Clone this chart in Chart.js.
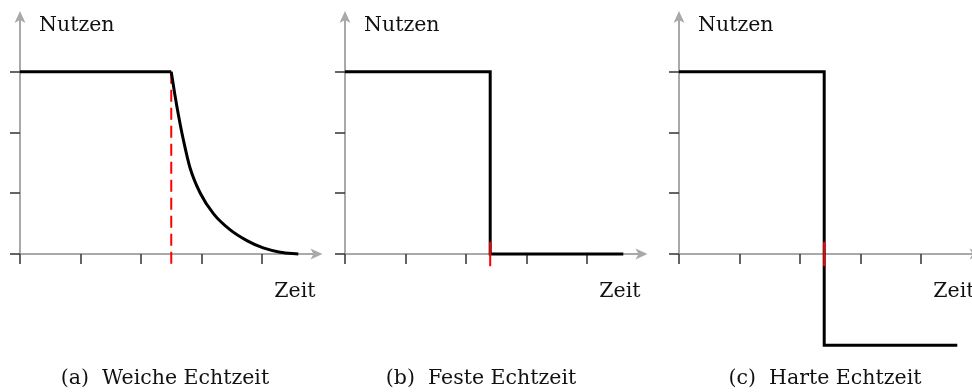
<!DOCTYPE html>
<html>
<head>
<meta charset="utf-8">
<script src="https://cdn.jsdelivr.net/npm/chart.js@4/dist/chart.umd.min.js"></script>
<style>
  body { margin: 0; background: #fff; overflow: hidden; }
  #wrap { position: relative; width: 972px; height: 392px; overflow: hidden; }
  canvas { position: absolute; top: 0; }
</style>
</head>
<body>
<div id="wrap">
  <canvas id="soft" width="340" height="392" style="left:0px"></canvas>
  <canvas id="firm" width="340" height="392" style="left:325px"></canvas>
  <canvas id="hard" width="340" height="392" style="left:659px"></canvas>
</div>
<script>
// axis ticks (no labels in the original)
const timeTicks = [0, 1, 2, 3, 4];
const utilTicks = [0, 1, 2, 3];

// (a) weiche Echtzeit
const softFlatX = [0, 2.5];
const softFlatY = [3, 3];
const softDecayX = [2.5, 2.56, 2.62, 2.7, 2.81, 2.98, 3.2, 3.47, 3.75, 4.02, 4.3, 4.6];
const softDecayY = [3, 2.62, 2.28, 1.88, 1.42, 1.0, 0.66, 0.40, 0.22, 0.1, 0.03, 0];
const softMarkY = [3, -0.2];

// (b) feste Echtzeit
const firmX = [0, 2.4, 2.4, 4.6];
const firmY = [3, 3, 0, 0];

// (c) harte Echtzeit
const hardX = [0, 2.4, 2.4, 4.6];
const hardY = [3, 3, -1.5, -1.5];

const markY = [0.2, -0.2];
const deadlines = [2.5, 2.4, 2.4];
const captions = ['(a)  Weiche Echtzeit', '(b)  Feste Echtzeit', '(c)  Harte Echtzeit'];
const yTitle = 'Nutzen';
const xTitle = 'Zeit';

const FONT = '20.5px "DejaVu Serif", serif';
const AXIS = '#a9a9a9';

function pts(xs, ys) {
  return xs.map((x, i) => ({ x: x, y: ys[i] }));
}

// axes with arrows, tick marks and labels
const axesPlugin = {
  id: 'axes',
  beforeDatasetsDraw(chart, args, opts) {
    const ctx = chart.ctx;
    const xs = chart.scales.x, ys = chart.scales.y;
    const ox = xs.getPixelForValue(0), oy = ys.getPixelForValue(0);
    const xEnd = xs.getPixelForValue(xs.max), yEnd = ys.getPixelForValue(ys.max);
    ctx.save();
    ctx.strokeStyle = AXIS;
    ctx.fillStyle = AXIS;
    ctx.lineWidth = 2;
    ctx.beginPath();
    ctx.moveTo(ox, oy); ctx.lineTo(xEnd - 4, oy);
    ctx.moveTo(ox, oy); ctx.lineTo(ox, yEnd + 4);
    ctx.stroke();
    // arrow heads
    ctx.beginPath();
    ctx.moveTo(xEnd, oy); ctx.lineTo(xEnd - 12, oy - 5.5); ctx.lineTo(xEnd - 9, oy); ctx.lineTo(xEnd - 12, oy + 5.5);
    ctx.closePath(); ctx.fill();
    ctx.beginPath();
    ctx.moveTo(ox, yEnd); ctx.lineTo(ox - 5.5, yEnd + 12); ctx.lineTo(ox, yEnd + 9); ctx.lineTo(ox + 5.5, yEnd + 12);
    ctx.closePath(); ctx.fill();
    // tick marks
    ctx.strokeStyle = '#333';
    ctx.lineWidth = 1.5;
    ctx.beginPath();
    timeTicks.forEach(t => {
      const px = Math.round(xs.getPixelForValue(t));
      ctx.moveTo(px, oy); ctx.lineTo(px, oy + 10);
    });
    utilTicks.forEach(t => {
      const py = Math.round(ys.getPixelForValue(t));
      ctx.moveTo(ox, py); ctx.lineTo(ox - 10, py);
    });
    ctx.stroke();
    ctx.restore();
  },
  afterDraw(chart, args, opts) {
    const ctx = chart.ctx;
    const xs = chart.scales.x, ys = chart.scales.y;
    const ox = xs.getPixelForValue(0), oy = ys.getPixelForValue(0);
    const xEnd = xs.getPixelForValue(xs.max);
    ctx.save();
    ctx.fillStyle = '#111';
    ctx.font = FONT;
    ctx.textBaseline = 'alphabetic';
    ctx.textAlign = 'left';
    ctx.fillText(yTitle, ox + 19, 31);
    ctx.textAlign = 'right';
    ctx.fillText(xTitle, xEnd - 7, oy + 43);
    ctx.textAlign = 'center';
    ctx.fillText(opts.caption, opts.captionX, 384);
    ctx.restore();
  }
};

function makeChart(id, datasets, caption, captionX) {
  return new Chart(document.getElementById(id), {
    type: 'line',
    data: { datasets: datasets },
    options: {
      responsive: false,
      animation: false,
      devicePixelRatio: 1,
      layout: { padding: { left: 20, right: 17.5, top: 11, bottom: 16.5 } },
      scales: {
        x: { type: 'linear', min: 0, max: 5, display: false },
        y: { type: 'linear', min: -2, max: 4, display: false }
      },
      elements: { point: { radius: 0 } },
      plugins: {
        legend: { display: false },
        tooltip: { enabled: false },
        axes: { caption: caption, captionX: captionX }
      }
    },
    plugins: [axesPlugin]
  });
}

function blackLine(data, order, curve) {
  return {
    data: data,
    borderColor: '#000',
    borderWidth: 3,
    borderJoinStyle: 'miter',
    cubicInterpolationMode: curve ? 'monotone' : 'default',
    tension: 0,
    order: order
  };
}

function redMark(x, ys, dashed, order) {
  return {
    data: pts([x, x], ys),
    borderColor: '#ff0000',
    borderWidth: 2,
    borderDash: dashed ? [12, 6] : [],
    order: order
  };
}

makeChart('soft', [
  blackLine(pts(softFlatX, softFlatY), 0, false),
  blackLine(pts(softDecayX, softDecayY), 0, true),
  redMark(deadlines[0], softMarkY, true, 1)
], captions[0], 165);

makeChart('firm', [
  blackLine(pts(firmX, firmY), 1, false),
  redMark(deadlines[1], markY, false, 0)
], captions[1], 156);

makeChart('hard', [
  blackLine(pts(hardX, hardY), 1, false),
  redMark(deadlines[2], markY, false, 0)
], captions[2], 166);
</script>
</body>
</html>
